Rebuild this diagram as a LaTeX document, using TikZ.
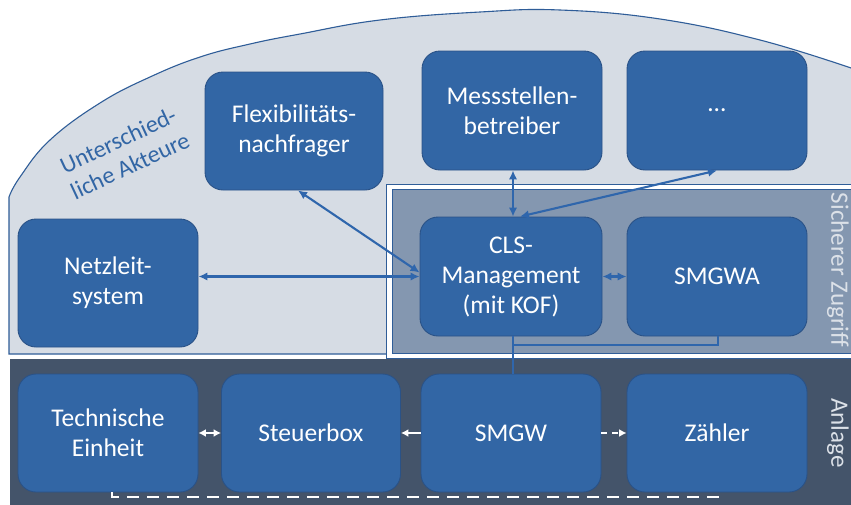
\documentclass[tikz,border=0pt]{standalone}
\usepackage{fontspec}
\setmainfont{Carlito}
\usetikzlibrary{arrows.meta}

\definecolor{lightbg}{HTML}{D6DCE4}
\definecolor{secbg}{HTML}{8497B0}
\definecolor{bandbg}{HTML}{44546A}
\definecolor{boxfill}{HTML}{3266A5}
\definecolor{boxline}{HTML}{2A5287}
\definecolor{linkcol}{HTML}{2F66AC}
\definecolor{outline}{HTML}{2F5D98}
\definecolor{sidetext}{HTML}{DCE1E8}

\tikzset{
  actorbox/.style={draw=boxline, line width=0.9pt, fill=boxfill, rounded corners=18pt,
    text=white, align=center, inner sep=0pt,
    font=\fontsize{25.5}{30}\selectfont},
  link/.style={draw=linkcol, line width=2.1pt},
  biarrow/.style={link, {Latex[length=9pt,width=8.5pt]}-{Latex[length=9pt,width=8.5pt]}},
  wlink/.style={draw=white, line width=2.2pt},
  wbiarrow/.style={wlink, {Latex[length=7.5pt,width=8pt]}-{Latex[length=7.5pt,width=8pt]}},
  warrow/.style={wlink, -{Latex[length=7.5pt,width=8pt]}},
  sidelabel/.style={text=sidetext, font=\fontsize{25}{30}\selectfont, rotate=-90}
}

\begin{document}
\begin{tikzpicture}[x=1pt, y=-1pt]
\useasboundingbox (0,0) rectangle (851,504);
\fill[white] (0,0) rectangle (851,504);

% region of the different actors, curved on top
\path[fill=lightbg, draw=outline, line width=1.1pt]
  (9,354) -- (9,197) -- plot[smooth, tension=0.7] coordinates {
    (9,197) (20,177) (50,140) (100,103) (150,77) (200,57) (250,44)
    (300,34) (380,20) (480,12) (560,10) (660,19) (760,40) (851,68)}
  -- (860,68) -- (860,354) -- cycle;

% secure access area (double border)
\path[fill=white, draw=outline, line width=1pt] (386,184) rectangle (860,358);
\path[fill=secbg, draw=outline, line width=1pt] (392,189) rectangle (860,353);

% installation band
\fill[bandbg] (10,359) rectangle (860,510);

% boxes
\node[actorbox, minimum width=178pt, minimum height=118pt] (flex) at (294,131) {Flexibilitäts-\\nachfrager};
\node[actorbox, minimum width=180pt, minimum height=119pt] (mess) at (512,110.5) {Messstellen-\\betreiber};
\node[actorbox, minimum width=180pt, minimum height=119pt] (dots) at (717,110.5) {…};
\node[actorbox, minimum width=180pt, minimum height=128pt] (netz) at (108,283) {Netzleit-\\system};
\node[actorbox, minimum width=182pt, minimum height=119pt] (cls) at (511,276.5) {CLS-\\Management\\(mit KOF)};
\node[actorbox, minimum width=180pt, minimum height=119pt] (smgwa) at (717,276.5) {SMGWA};
\node[actorbox, minimum width=180pt, minimum height=118pt] (tech) at (108,433) {Technische\\Einheit};
\node[actorbox, minimum width=179pt, minimum height=118pt] (steuer) at (311,433) {Steuerbox};
\node[actorbox, minimum width=180pt, minimum height=118pt] (smgw) at (511,433) {SMGW};
\node[actorbox, minimum width=180pt, minimum height=118pt] (zaehler) at (717,433) {Zähler};

% side labels
\node[text=boxfill, align=center, rotate=25, font=\fontsize{24}{28}\selectfont] (akteure) at (124,153) {Unterschied-\\liche Akteure};
\node[sidelabel] (zugriff) at (838,270) {Sicherer Zugriff};
\node[sidelabel] (anlage) at (838,433) {Anlage};

% connections of the CLS management
\draw[biarrow] (netz.east |- cls.west) -- (cls.west);
\draw[biarrow] ([xshift=4pt]flex.south) -- ([yshift=4pt]cls.west);
\draw[biarrow] ([xshift=1pt]mess.south) -- ([xshift=2pt]cls.north);
\draw[biarrow] (dots.south) -- ([xshift=9pt]cls.north);
\draw[biarrow] (cls.east) -- (smgwa.west);

% gateway link and administrator branch
\coordinate (junction) at (513,345);
\draw[link, line width=1.5pt] ([xshift=2pt]cls.south) -- ([xshift=2pt]smgw.north);
\draw[link, line width=1.5pt] ([xshift=1pt]smgwa.south) |- (junction);

% links inside the installation
\draw[wbiarrow] (tech.east) -- (steuer.west);
\draw[warrow] (smgw.west) -- (steuer.east);
\draw[warrow, dash pattern=on 6pt off 5pt] (smgw.east) -- (zaehler.west);
\draw[wlink, line width=2pt, dash pattern=on 12pt off 8pt]
  ([xshift=4pt]tech.south) -- ++(0,5) -| ([xshift=1pt]zaehler.south);
\end{tikzpicture}
\end{document}
